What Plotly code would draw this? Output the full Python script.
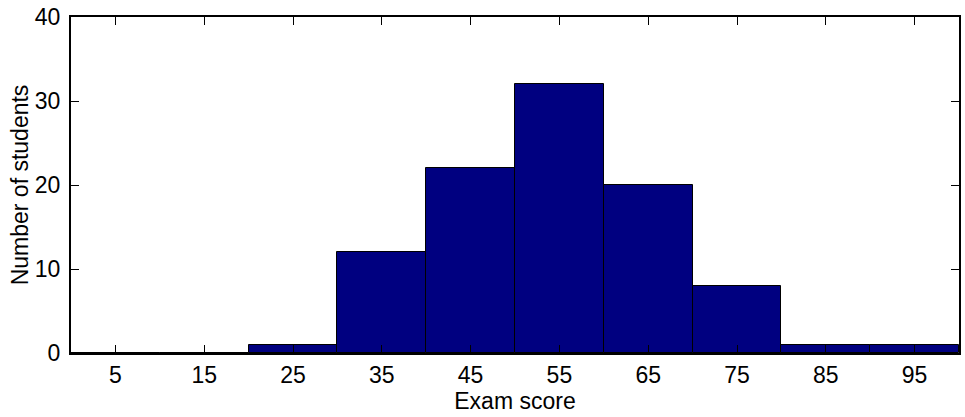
import plotly.graph_objects as go

bin_centers = [5, 15, 25, 35, 45, 55, 65, 75, 85, 95]
counts = [0, 0, 1, 12, 22, 32, 20, 8, 1, 1]
x_ticks = [5, 15, 25, 35, 45, 55, 65, 75, 85, 95]
y_ticks = [0, 10, 20, 30, 40]

fig = go.Figure()
fig.add_trace(go.Bar(
    x=bin_centers, y=counts, width=10,
    marker=dict(color="#000080", line=dict(color="black", width=1)),
))

font = dict(family="Liberation Sans, Arial, sans-serif", size=23, color="black")
axis_common = dict(
    showline=True, linecolor="black", linewidth=2, mirror="ticks",
    ticks="inside", ticklen=8, tickwidth=1, tickcolor="black",
    showgrid=False, zeroline=False, tickfont=font, automargin=False,
    ticklabeloverflow="allow",
)
fig.update_layout(
    width=965, height=417,
    margin=dict(l=71, r=6, t=17, b=64),
    paper_bgcolor="white", plot_bgcolor="white",
    showlegend=False, bargap=0,
    font=font,
    xaxis=dict(range=[0, 100], tickvals=x_ticks, ticklabelstandoff=0,
               title=dict(text="Exam score", font=font, standoff=0), **axis_common),
    yaxis=dict(range=[0, 40], tickvals=y_ticks, ticklabelstandoff=4,
               title=dict(text="Number of students", font=font, standoff=0), **axis_common),
)
# remove the page's default body margin so the figure sits at the window's corner
fig.write_html("out.html", config={"displayModeBar": False},
               post_script="document.body.style.margin='0';")
